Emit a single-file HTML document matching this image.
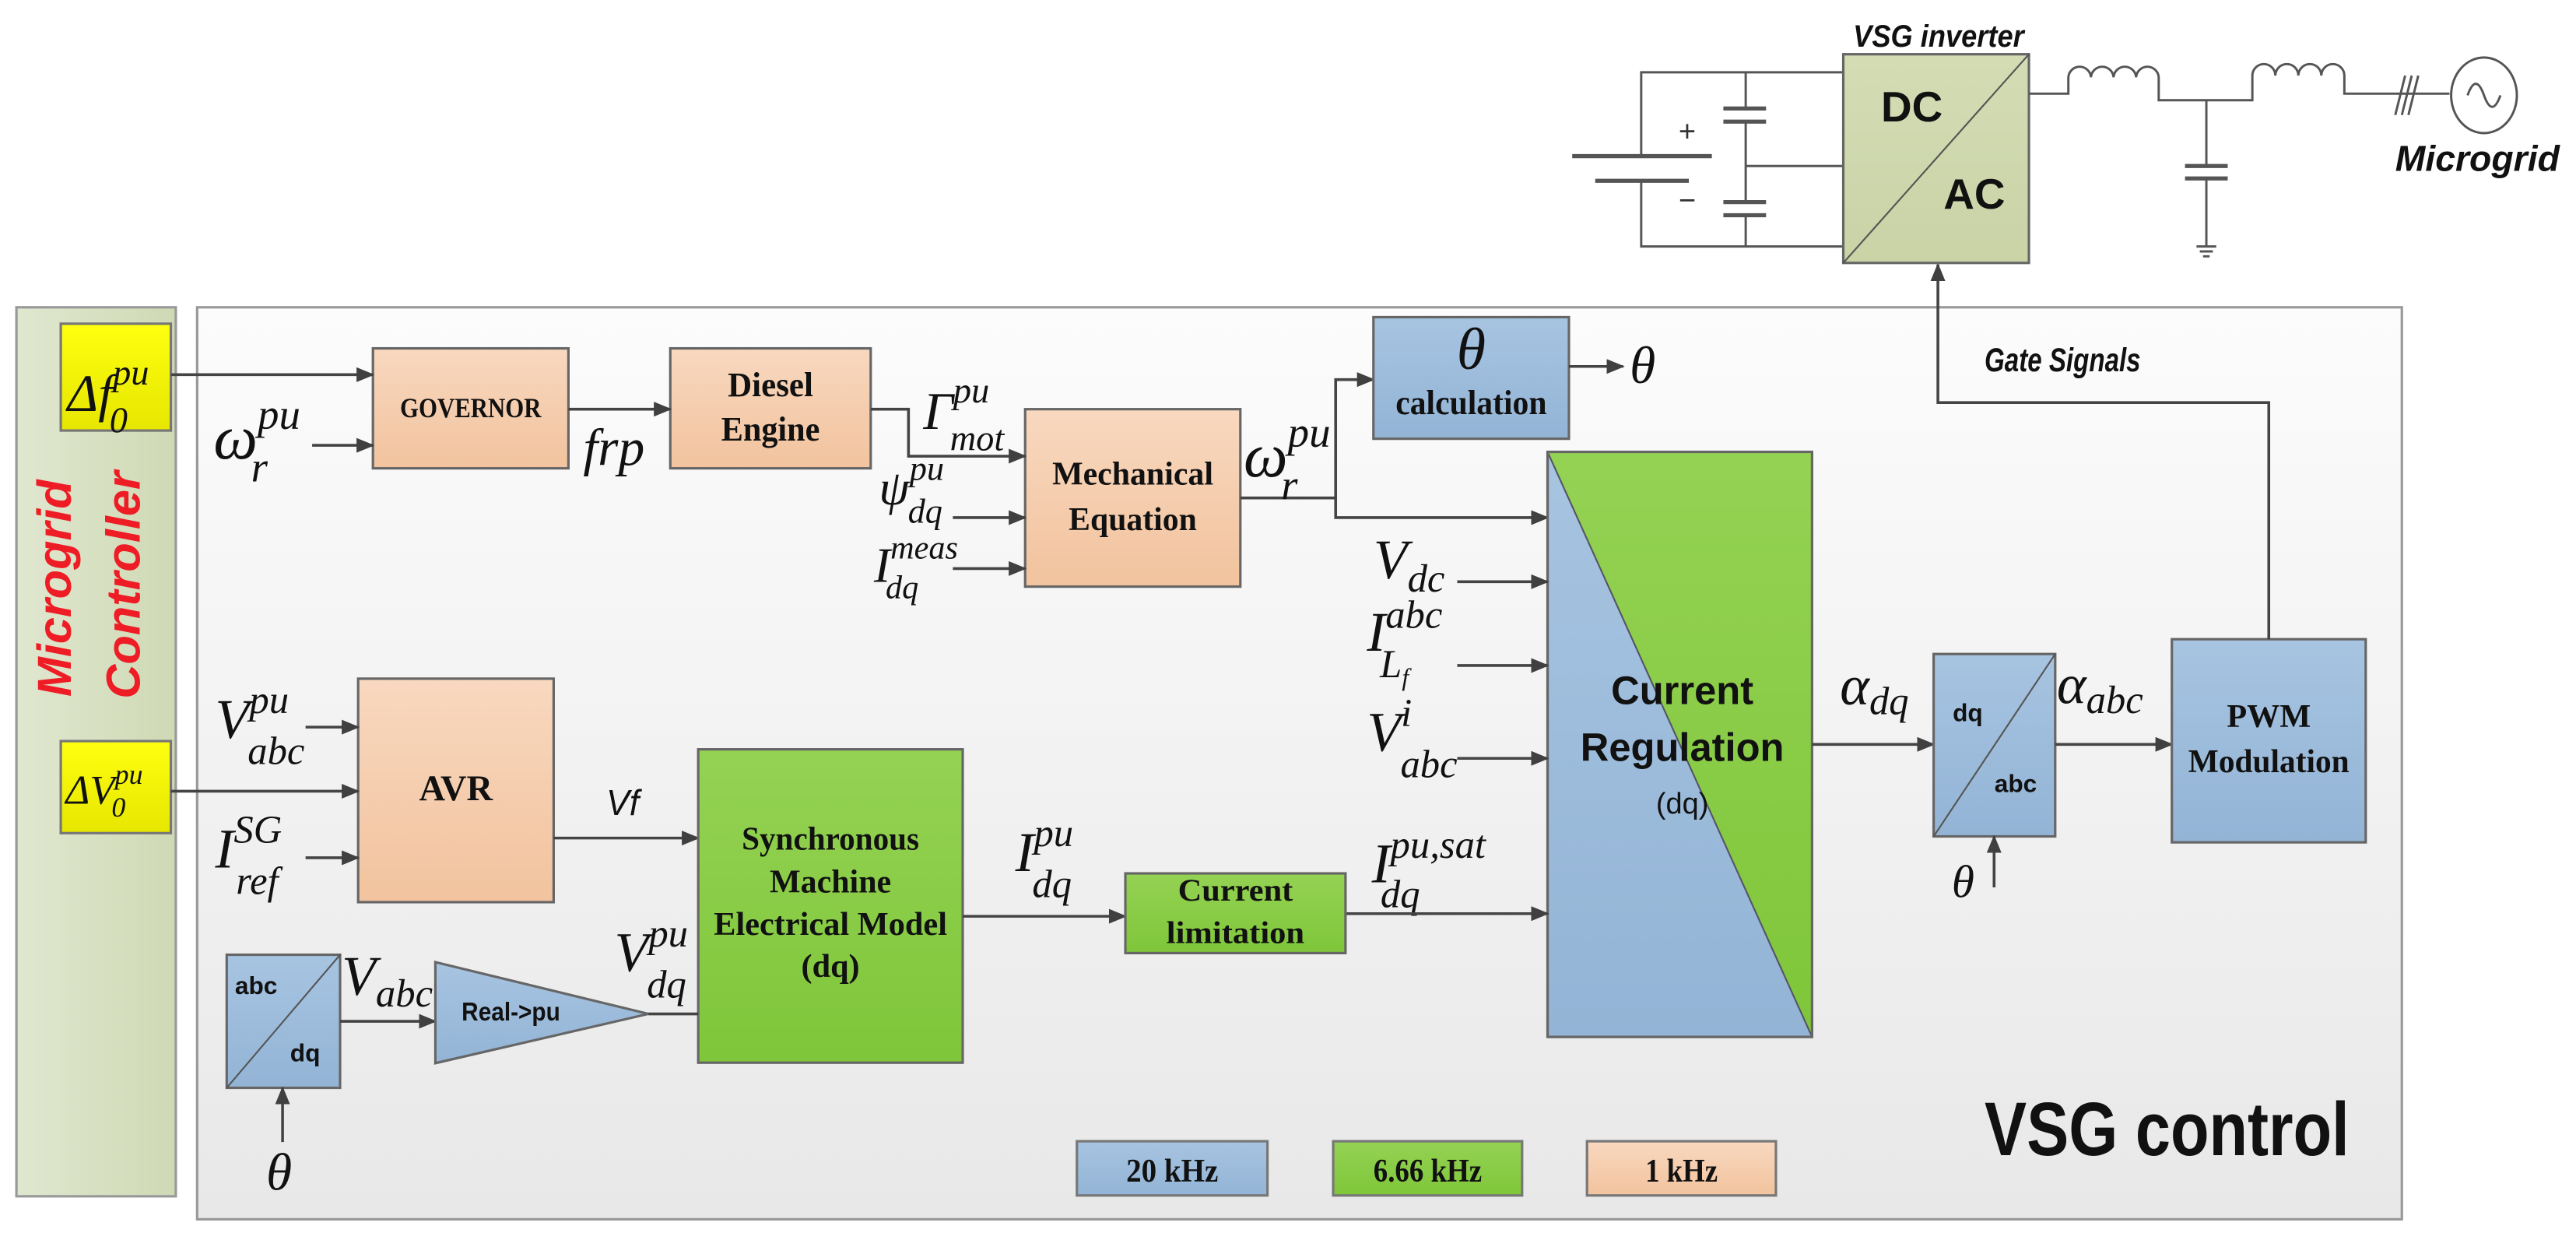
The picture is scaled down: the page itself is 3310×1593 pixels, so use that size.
<!DOCTYPE html>
<html><head><meta charset="utf-8"><style>
html,body{margin:0;padding:0;background:#fff;}
svg{display:block;}
.m{font-family:"Liberation Serif",serif;font-style:italic;fill:#111;}
.b{font-family:"Liberation Serif",serif;font-weight:bold;fill:#111;text-anchor:middle;}
.s{font-family:"Liberation Sans",sans-serif;font-weight:bold;fill:#111;}
.ln{stroke:#444;stroke-width:1.7;fill:none;}
.bx{stroke:#666;stroke-width:1.5;}
</style></head><body>
<svg width="3310" height="1593" viewBox="0 0 1568 754.6" preserveAspectRatio="none" xmlns="http://www.w3.org/2000/svg">
<defs>
<marker id="a" markerUnits="userSpaceOnUse" markerWidth="11" markerHeight="9" refX="10" refY="4.5" orient="auto"><path d="M0,0 L11,4.5 L0,9 z" fill="#404040"/></marker>
<linearGradient id="pe" x1="0" y1="0" x2="0" y2="1"><stop offset="0" stop-color="#f8d8bf"/><stop offset="1" stop-color="#f2c39e"/></linearGradient>
<linearGradient id="gr" x1="0" y1="0" x2="0" y2="1"><stop offset="0" stop-color="#94d253"/><stop offset="1" stop-color="#7fc63a"/></linearGradient>
<linearGradient id="bl" x1="0" y1="0" x2="0" y2="1"><stop offset="0" stop-color="#a7c4e1"/><stop offset="1" stop-color="#93b4d6"/></linearGradient>
<linearGradient id="ye" x1="0" y1="0" x2="0" y2="1"><stop offset="0" stop-color="#ffff10"/><stop offset="1" stop-color="#e6e600"/></linearGradient>
<linearGradient id="mg" x1="0" y1="0" x2="1" y2="0"><stop offset="0" stop-color="#e0e7d0"/><stop offset="1" stop-color="#cfd9b4"/></linearGradient>
<linearGradient id="mb" x1="0" y1="0" x2="0" y2="1"><stop offset="0" stop-color="#fcfcfc"/><stop offset="1" stop-color="#e8e8e8"/></linearGradient>
<linearGradient id="inv" x1="0" y1="0" x2="0" y2="1"><stop offset="0" stop-color="#d4dcb4"/><stop offset="1" stop-color="#c9d3a6"/></linearGradient>
</defs>

<!-- Microgrid controller panel -->
<rect x="10" y="187" width="97" height="541" fill="url(#mg)" stroke="#999" stroke-width="1.5"/>
<text transform="translate(43,358) rotate(-90)" text-anchor="middle" font-family="Liberation Sans,sans-serif" font-weight="bold" font-style="italic" font-size="29" fill="#ee1c24">Microgrid</text>
<text transform="translate(85,356) rotate(-90)" text-anchor="middle" font-family="Liberation Sans,sans-serif" font-weight="bold" font-style="italic" font-size="29" fill="#ee1c24">Controller</text>

<!-- main box -->
<rect x="120" y="187" width="1342" height="555" fill="url(#mb)" stroke="#999" stroke-width="1.5"/>

<!-- yellow boxes -->
<rect x="37" y="197" width="67" height="65" fill="url(#ye)" stroke="#777" stroke-width="1.5"/>
<text class="m" x="41" y="250" font-size="32" font-style="normal">Δ<tspan font-style="italic">f</tspan><tspan font-size="22" dy="-16">pu</tspan><tspan font-size="22" dx="-24" dy="29">0</tspan></text>
<rect x="37" y="451" width="67" height="56" fill="url(#ye)" stroke="#777" stroke-width="1.5"/>
<text class="m" x="40" y="489" font-size="25" font-style="normal">Δ<tspan font-style="italic">V</tspan><tspan font-size="17" dy="-12">pu</tspan><tspan font-size="17" dx="-19" dy="20">0</tspan></text>

<!-- Governor / Diesel -->
<rect class="bx" x="227" y="212" width="119" height="73" fill="url(#pe)"/>
<text class="b" x="286.5" y="254" font-size="17" textLength="86" lengthAdjust="spacingAndGlyphs">GOVERNOR</text>
<rect class="bx" x="408" y="212" width="122" height="73" fill="url(#pe)"/>
<text class="b" x="469" y="241" font-size="21" textLength="52" lengthAdjust="spacingAndGlyphs">Diesel</text>
<text class="b" x="469" y="268" font-size="21" textLength="60" lengthAdjust="spacingAndGlyphs">Engine</text>

<line class="ln" x1="104" y1="228" x2="227" y2="228" marker-end="url(#a)"/>
<text class="m" x="130" y="279" font-size="38">ω<tspan font-size="26" dy="-18">pu</tspan><tspan font-size="26" dx="-30" dy="32">r</tspan></text>
<line class="ln" x1="190" y1="271" x2="227" y2="271" marker-end="url(#a)"/>
<line class="ln" x1="346" y1="249" x2="408" y2="249" marker-end="url(#a)"/>
<text class="m" x="355" y="283" font-size="32">frp</text>

<!-- Mechanical -->
<rect class="bx" x="624" y="249" width="131" height="108" fill="url(#pe)"/>
<text class="b" x="689.5" y="295" font-size="20" textLength="98" lengthAdjust="spacingAndGlyphs">Mechanical</text>
<text class="b" x="689.5" y="322.6" font-size="20" textLength="78" lengthAdjust="spacingAndGlyphs">Equation</text>
<polyline class="ln" points="530,249 553,249 553,277.6 624,277.6" marker-end="url(#a)"/>
<text class="m" x="562" y="261" font-size="32" font-style="normal">Γ<tspan font-style="italic" font-size="22" dy="-16">pu</tspan><tspan font-style="italic" font-size="22" dx="-24" dy="29">mot</tspan></text>
<text class="m" x="535" y="307" font-size="30">ψ<tspan font-size="21" dy="-15">pu</tspan><tspan font-size="21" dx="-22" dy="26">dq</tspan></text>
<line class="ln" x1="580" y1="315" x2="624" y2="315" marker-end="url(#a)"/>
<text class="m" x="532" y="354" font-size="30">I<tspan font-size="20" dy="-14">meas</tspan><tspan font-size="20" dx="-44" dy="24">dq</tspan></text>
<line class="ln" x1="580" y1="346" x2="624" y2="346" marker-end="url(#a)"/>

<!-- omega out -->
<polyline class="ln" points="755,303 813,303 813,231 836,231" marker-end="url(#a)"/>
<polyline class="ln" points="813,303 813,315 942,315" marker-end="url(#a)"/>
<text class="m" x="757" y="290" font-size="38">ω<tspan font-size="26" dy="-18">pu</tspan><tspan font-size="26" dx="-30" dy="32">r</tspan></text>

<!-- theta calc -->
<rect class="bx" x="836" y="193" width="119" height="74" fill="url(#bl)"/>
<text class="m" x="895.5" y="224.5" font-size="36" text-anchor="middle">θ</text>
<text class="b" x="895.5" y="252" font-size="21" textLength="92" lengthAdjust="spacingAndGlyphs">calculation</text>
<line class="ln" x1="955" y1="223" x2="988" y2="223" marker-end="url(#a)"/>
<text class="m" x="992" y="233" font-size="32">θ</text>

<!-- Current regulation -->
<rect x="942" y="275" width="161" height="356" fill="url(#bl)" stroke="#666" stroke-width="1.5"/>
<polygon points="942,275 1103,275 1103,631" fill="url(#gr)"/>
<line x1="942" y1="275" x2="1103" y2="631" stroke="#556" stroke-width="1"/>
<rect x="942" y="275" width="161" height="356" fill="none" stroke="#666" stroke-width="1.5"/>
<text class="s" x="1024" y="428.5" font-size="24" text-anchor="middle">Current</text>
<text class="s" x="1024" y="463" font-size="24" text-anchor="middle">Regulation</text>
<text x="1024" y="495" font-size="18" text-anchor="middle" font-family="Liberation Sans,sans-serif" fill="#111">(dq)</text>

<text class="m" x="836" y="352" font-size="34">V<tspan font-size="24" dy="8">dc</tspan></text>
<line class="ln" x1="887" y1="354" x2="942" y2="354" marker-end="url(#a)"/>
<text class="m" x="832" y="396" font-size="34">I<tspan font-size="24" dy="-14">abc</tspan><tspan font-size="24" dx="-38" dy="30">L<tspan font-size="15" dy="5">f</tspan></tspan></text>
<line class="ln" x1="887" y1="405" x2="942" y2="405" marker-end="url(#a)"/>
<text class="m" x="832" y="457" font-size="34">V<tspan font-size="24" dy="-15">i</tspan><tspan font-size="24" dx="-7" dy="31">abc</tspan></text>
<line class="ln" x1="887" y1="461.5" x2="942" y2="461.5" marker-end="url(#a)"/>
<text class="m" x="835" y="537" font-size="34">I<tspan font-size="24" dy="-15">pu,sat</tspan><tspan font-size="24" dx="-64" dy="30">dq</tspan></text>
<line class="ln" x1="819" y1="556" x2="942" y2="556" marker-end="url(#a)"/>

<!-- dq/abc, PWM -->
<line class="ln" x1="1103" y1="453" x2="1177" y2="453" marker-end="url(#a)"/>
<text class="m" x="1120" y="428.7" font-size="34">α<tspan font-size="24" dy="6">dq</tspan></text>
<rect class="bx" x="1177" y="398" width="74" height="111" fill="url(#bl)"/>
<line x1="1177" y1="509" x2="1251" y2="398" stroke="#555" stroke-width="1"/>
<text class="s" x="1188.6" y="439" font-size="15">dq</text>
<text class="s" x="1214" y="482" font-size="15">abc</text>
<line class="ln" x1="1213.8" y1="540" x2="1213.8" y2="509" marker-end="url(#a)"/>
<text class="m" x="1188" y="546" font-size="28">θ</text>
<line class="ln" x1="1251" y1="453" x2="1322" y2="453" marker-end="url(#a)"/>
<text class="m" x="1252" y="428" font-size="34">α<tspan font-size="24" dy="6">abc</tspan></text>
<rect class="bx" x="1322" y="389" width="118" height="123.6" fill="url(#bl)"/>
<text class="b" x="1381" y="442.5" font-size="20">PWM</text>
<text class="b" x="1381" y="470" font-size="20" textLength="98" lengthAdjust="spacingAndGlyphs">Modulation</text>
<polyline class="ln" points="1381,389 1381,245 1179.6,245 1179.6,161" marker-end="url(#a)"/>
<text x="1208" y="226" font-size="20" font-family="Liberation Sans,sans-serif" font-weight="bold" font-style="italic" fill="#111" textLength="95" lengthAdjust="spacingAndGlyphs">Gate Signals</text>

<!-- AVR -->
<rect class="bx" x="218" y="413" width="119" height="136" fill="url(#pe)"/>
<text class="b" x="277.5" y="487" font-size="22">AVR</text>
<text class="m" x="131" y="449" font-size="34">V<tspan font-size="24" dy="-15">pu</tspan><tspan font-size="24" dx="-25" dy="31">abc</tspan></text>
<line class="ln" x1="186" y1="442.5" x2="218" y2="442.5" marker-end="url(#a)"/>
<line class="ln" x1="104" y1="481.5" x2="218" y2="481.5" marker-end="url(#a)"/>
<text class="m" x="131" y="528" font-size="34">I<tspan font-size="24" dy="-15">SG</tspan><tspan font-size="24" dx="-28" dy="31">ref</tspan></text>
<line class="ln" x1="186" y1="522" x2="218" y2="522" marker-end="url(#a)"/>
<line class="ln" x1="337" y1="510" x2="425" y2="510" marker-end="url(#a)"/>
<text x="369" y="496" font-size="22" font-family="Liberation Sans,sans-serif" font-style="italic" fill="#111" textLength="20" lengthAdjust="spacingAndGlyphs">Vf</text>

<!-- Synchronous machine -->
<rect class="bx" x="425" y="456" width="161" height="190.7" fill="url(#gr)"/>
<text class="b" x="505.5" y="517" font-size="20" textLength="108" lengthAdjust="spacingAndGlyphs">Synchronous</text>
<text class="b" x="505.5" y="543" font-size="20" textLength="74" lengthAdjust="spacingAndGlyphs">Machine</text>
<text class="b" x="505.5" y="569" font-size="20" textLength="142" lengthAdjust="spacingAndGlyphs">Electrical Model</text>
<text class="b" x="505.5" y="594.6" font-size="20">(dq)</text>
<line class="ln" x1="586" y1="557.6" x2="685" y2="557.6" marker-end="url(#a)"/>
<text class="m" x="618" y="530" font-size="34">I<tspan font-size="24" dy="-15">pu</tspan><tspan font-size="24" dx="-25" dy="31">dq</tspan></text>

<rect class="bx" x="685" y="531.5" width="134" height="48.5" fill="url(#gr)"/>
<text class="b" x="752" y="548" font-size="19" textLength="70" lengthAdjust="spacingAndGlyphs">Current</text>
<text class="b" x="752" y="574" font-size="19" textLength="84" lengthAdjust="spacingAndGlyphs">limitation</text>

<!-- abc/dq small and Real->pu -->
<rect class="bx" x="138" y="581" width="69" height="81" fill="url(#bl)"/>
<line x1="138" y1="662" x2="207" y2="581" stroke="#555" stroke-width="1"/>
<text class="s" x="143" y="605" font-size="15">abc</text>
<text class="s" x="176.6" y="646" font-size="15">dq</text>
<line class="ln" x1="172" y1="695" x2="172" y2="662" marker-end="url(#a)"/>
<text class="m" x="162" y="724" font-size="32">θ</text>
<line class="ln" x1="207" y1="621.5" x2="265" y2="621.5" marker-end="url(#a)"/>
<text class="m" x="208" y="605.5" font-size="34">V<tspan font-size="24" dy="7">abc</tspan></text>
<polygon points="265,585.5 394.7,617 265,647" fill="url(#bl)" stroke="#666" stroke-width="1.5"/>
<text class="s" x="281" y="621" font-size="16" textLength="60" lengthAdjust="spacingAndGlyphs">Real-&gt;pu</text>
<line class="ln" x1="394.7" y1="617" x2="425" y2="617"/>
<text class="m" x="374" y="591" font-size="34">V<tspan font-size="24" dy="-15">pu</tspan><tspan font-size="24" dx="-25" dy="31">dq</tspan></text>

<!-- legend -->
<rect x="655.5" y="694.5" width="116" height="33" fill="url(#bl)" stroke="#777" stroke-width="1.5"/>
<text class="b" x="713.5" y="719" font-size="20" font-weight="normal" textLength="56" lengthAdjust="spacingAndGlyphs">20 kHz</text>
<rect x="811.5" y="694.5" width="115" height="33" fill="url(#gr)" stroke="#777" stroke-width="1.5"/>
<text class="b" x="869" y="719" font-size="20" font-weight="normal" textLength="66" lengthAdjust="spacingAndGlyphs">6.66 kHz</text>
<rect x="966" y="694.5" width="115" height="33" fill="url(#pe)" stroke="#777" stroke-width="1.5"/>
<text class="b" x="1023.5" y="719" font-size="20" font-weight="normal" textLength="44" lengthAdjust="spacingAndGlyphs">1 kHz</text>
<text x="1208" y="703" font-size="46" font-family="Liberation Sans,sans-serif" font-weight="bold" fill="#111" textLength="222" lengthAdjust="spacingAndGlyphs">VSG control</text>

<!-- inverter circuit -->
<text x="1128" y="28.5" font-size="19" font-family="Liberation Sans,sans-serif" font-weight="bold" font-style="italic" fill="#111" textLength="104" lengthAdjust="spacingAndGlyphs">VSG inverter</text>
<g stroke="#555" stroke-width="1.4" fill="none">
<polyline points="1122,44 999,44 999,95"/>
<polyline points="999,110 999,150 1122,150"/>
<line x1="1062.6" y1="44" x2="1062.6" y2="66"/>
<line x1="1062.6" y1="74" x2="1062.6" y2="123"/>
<line x1="1062.6" y1="131" x2="1062.6" y2="150"/>
<line x1="1062.6" y1="101" x2="1122" y2="101"/>
</g>
<g stroke="#555" stroke-width="2.5">
<line x1="957" y1="95" x2="1042" y2="95"/>
<line x1="971" y1="110" x2="1028" y2="110"/>
<line x1="1049" y1="66" x2="1075" y2="66"/><line x1="1049" y1="74" x2="1075" y2="74"/>
<line x1="1049" y1="123" x2="1075" y2="123"/><line x1="1049" y1="131" x2="1075" y2="131"/>
<line x1="1330" y1="101" x2="1356" y2="101"/><line x1="1330" y1="108.6" x2="1356" y2="108.6"/>
</g>
<text x="1027" y="86" font-size="18" text-anchor="middle" font-family="Liberation Sans,sans-serif" fill="#333">+</text>
<text x="1027" y="128" font-size="18" text-anchor="middle" font-family="Liberation Sans,sans-serif" fill="#333">−</text>
<rect x="1122" y="33" width="113" height="127" fill="url(#inv)" stroke="#666" stroke-width="1.5"/>
<line x1="1122" y1="160" x2="1235" y2="33" stroke="#555" stroke-width="1"/>
<text class="s" x="1145" y="74" font-size="26">DC</text>
<text class="s" x="1183" y="127" font-size="26">AC</text>
<g stroke="#555" stroke-width="1.4" fill="none">
<path d="M1235,57 H1259 V47 a6.9,7 0 0 1 13.75,0 a6.9,7 0 0 1 13.75,0 a6.9,7 0 0 1 13.75,0 a6.9,7 0 0 1 13.75,0 V61 H1371 V46 a7,7 0 0 1 14,0 a7,7 0 0 1 14,0 a7,7 0 0 1 14,0 a7,7 0 0 1 14,0 V57 H1491"/>
<line x1="1343" y1="61" x2="1343" y2="101"/>
<line x1="1343" y1="108.6" x2="1343" y2="150"/>
<path d="M1337,150 H1349 M1339,153 H1347 M1341,156 H1345"/>
<line x1="1458" y1="70" x2="1464" y2="46"/><line x1="1462" y1="70" x2="1468" y2="46"/><line x1="1466" y1="70" x2="1472" y2="46"/>
<ellipse cx="1512" cy="58" rx="20" ry="23"/>
<path d="M1502,58 q5,-14 10,0 t10,0"/>
</g>
<text x="1458" y="104" font-size="22" font-family="Liberation Sans,sans-serif" font-weight="bold" font-style="italic" fill="#111" textLength="100" lengthAdjust="spacingAndGlyphs">Microgrid</text>
</svg>
</body></html>
